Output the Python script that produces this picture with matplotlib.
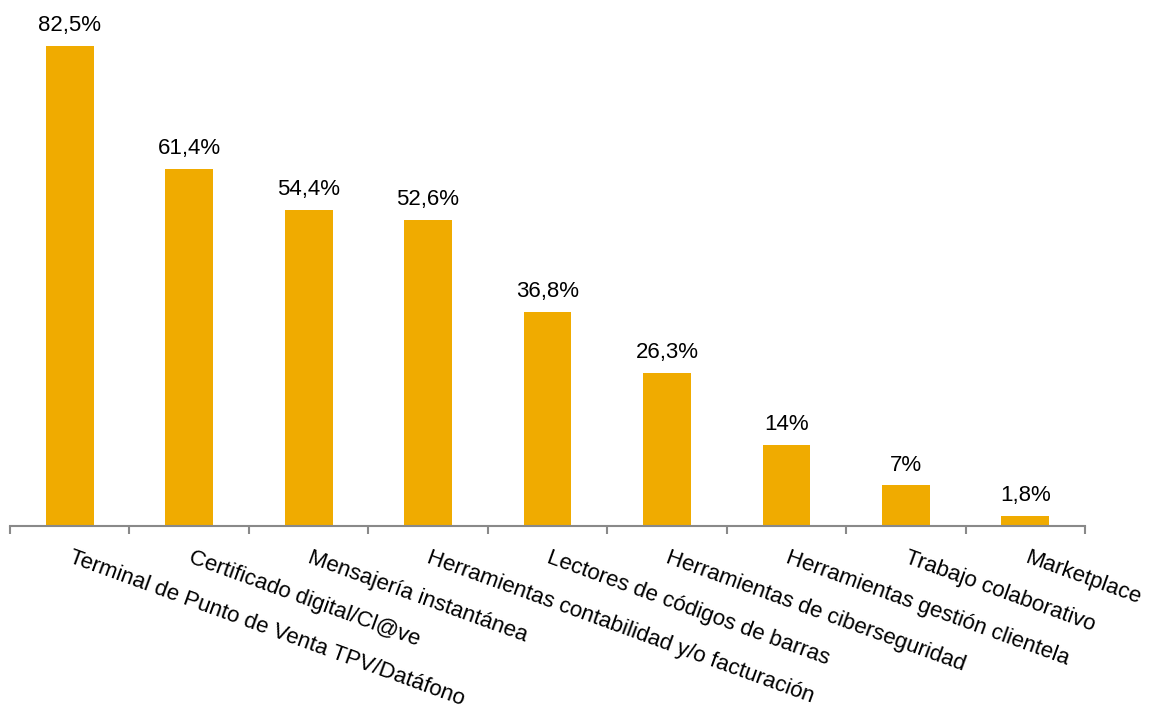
import matplotlib
matplotlib.use("Agg")
import matplotlib.pyplot as plt
import numpy as np

categories = ["Terminal de Punto de Venta TPV/Datáfono", "Certificado digital/Cl@ve",
              "Mensajería instantánea", "Herramientas contabilidad y/o facturación",
              "Lectores de códigos de barras", "Herramientas de ciberseguridad",
              "Herramientas gestión clientela", "Trabajo colaborativo", "Marketplace"]
values = [82.5, 61.4, 54.4, 52.6, 36.8, 26.3, 14.0, 7.0, 1.8]
value_labels = ["82,5%", "61,4%", "54,4%", "52,6%", "36,8%", "26,3%", "14%", "7%", "1,8%"]

plt.rcParams['font.family'] = ['Liberation Sans', 'DejaVu Sans']

fig = plt.figure(figsize=(11.51, 7.09), dpi=100)
ax = fig.add_axes([10/1151, 183/709, 1075/1151, 523.6/709])

x = np.arange(len(categories))
bars = ax.bar(x, values, width=0.40, color="#F0AB00")
ax.set_xlim(-0.5, len(categories) - 0.5)
ax.set_ylim(0, 90)

for xi, v, lab in zip(x, values, value_labels):
    ax.annotate(lab, (xi, v), xytext=(0, 7), textcoords="offset points",
                ha="center", va="bottom", fontsize=16, color="black")

for s in ["top", "right", "left"]:
    ax.spines[s].set_visible(False)
ax.spines["bottom"].set_color("#898989")
ax.spines["bottom"].set_linewidth(1.5)
ax.set_yticks([])

ax.set_xticks(np.arange(len(categories) + 1) - 0.5)
ax.set_xticklabels([])
ax.tick_params(axis="x", which="major", length=5.5, width=1.5, color="#898989")

ax.set_xticks(x + 0.03, minor=True)
ax.set_xticklabels(categories, minor=True, rotation=-20, ha="left", va="top",
                   rotation_mode="anchor", fontsize=16)
ax.tick_params(axis="x", which="minor", length=0, pad=15)

fig.savefig("out.png", dpi=100)
